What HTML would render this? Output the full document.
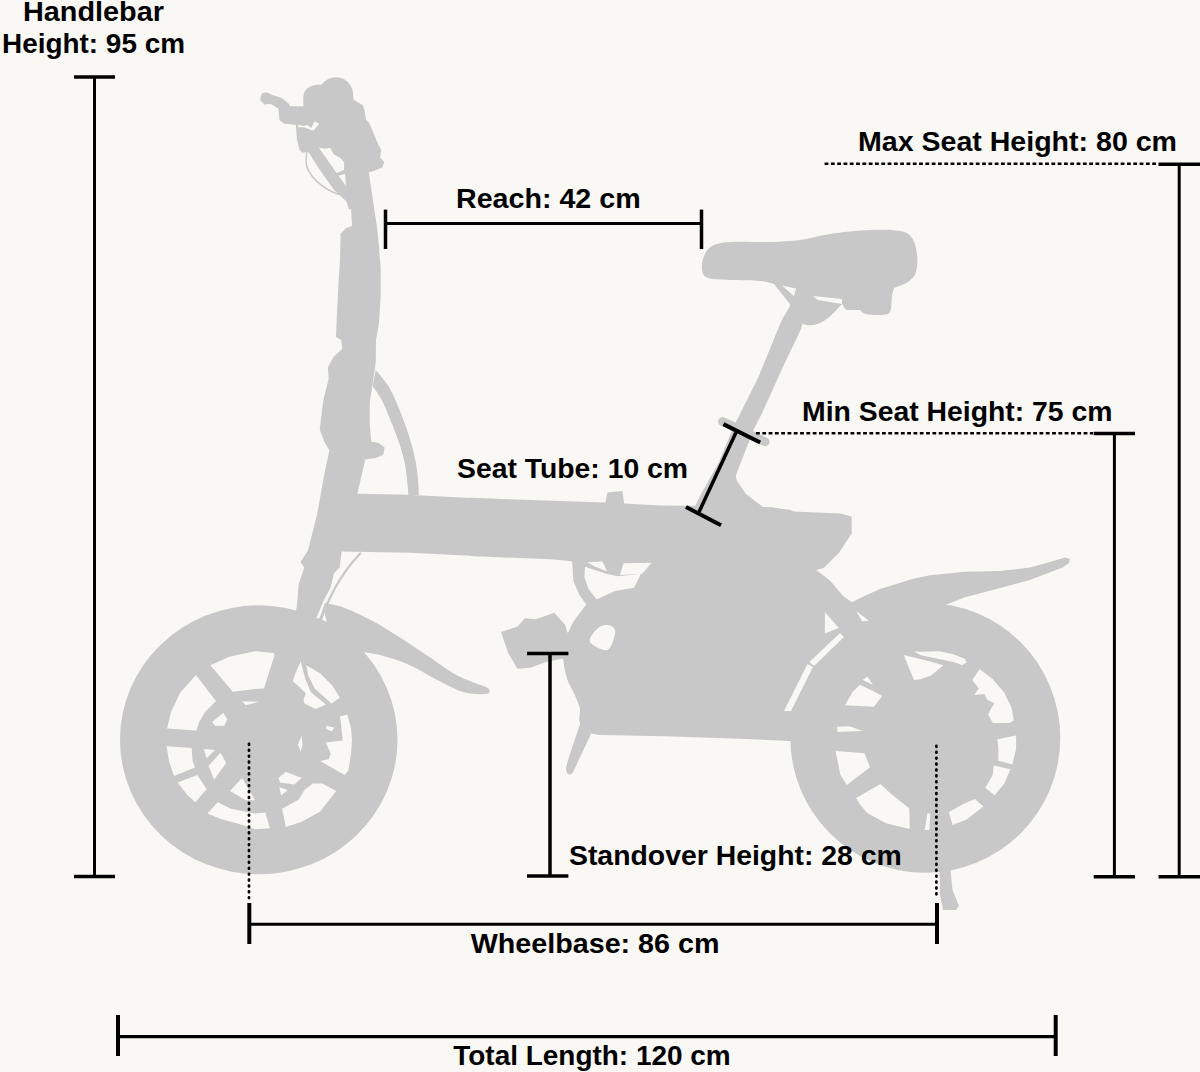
<!DOCTYPE html>
<html><head><meta charset="utf-8"><style>
html,body{margin:0;padding:0;background:#f9f8f4;}
svg{display:block;}
text{font-family:"Liberation Sans",sans-serif;font-weight:bold;font-size:27px;fill:#000;}
</style></head><body>
<svg width="1200" height="1072" viewBox="0 0 1200 1072">
<rect width="1200" height="1072" fill="#f9f8f4"/>
<g fill="#c8c8c8"><ellipse cx="258.75" cy="739.8" rx="138.75" ry="134.5"/><circle cx="925.3" cy="737.8" r="135"/><path d="M260.3,98.0 L262.0,93.3 L266.7,92.2 L272.5,95.1 L281.8,98.0 L288.8,103.8 L290.0,106.2 L303.5,106.2 L303.2,100.8 L303.4,96.0 L304.2,92.6 L306.5,89.0 L310.4,86.4 L315.0,85.0 L321.7,84.4 L324.5,81.5 L327.8,79.2 L331.5,77.7 L336.0,77.2 L340.5,77.7 L344.2,79.2 L347.7,81.8 L350.4,85.4 L352.3,89.3 L353.0,93.6 L353.5,99.7 L358.6,102.8 L362.7,104.9 L364.7,111.0 L365.8,119.2 L368.8,122.3 L373.0,131.5 L377.0,141.8 L381.2,150.0 L380.1,157.2 L384.2,162.3 L382.2,167.4 L375.0,170.5 L368.8,172.6 L371.5,190.6 L374.3,209.3 L377.1,227.9 L379.0,246.6 L380.0,260.0 L380.7,268.0 L380.7,296.0 L378.9,324.0 L376.0,340.0 L375.7,362.4 L372.7,383.3 L369.7,402.7 L369.7,423.6 L371.2,441.5 L378.7,443.0 L384.6,447.5 L383.1,454.9 L375.7,457.9 L365.2,459.4 L357.4,493.7 L399.4,494.6 L421.8,495.6 L480.0,498.4 L480.0,556.2 L410.6,552.8 L341.6,551.5 L339.7,567.4 L334.1,573.0 L330.4,587.9 L324.5,599.0 L316.5,618.0 L300.0,700.0 L262.0,740.0 L230.0,700.0 L294.0,620.0 L296.8,606.6 L298.7,584.2 L304.3,567.4 L300.5,561.8 L308.0,550.6 L317.3,513.3 L324.9,471.3 L329.4,450.4 L324.2,441.5 L319.7,429.6 L323.4,399.7 L328.7,378.8 L327.9,366.9 L333.9,356.4 L342.1,349.0 L341.3,340.0 L336.0,337.0 L336.9,314.6 L338.8,277.3 L340.0,260.0 L340.7,233.5 L346.3,227.9 L352.0,226.0 L351.0,209.0 L348.8,209.3 L346.9,202.8 L346.0,200.9 L333.8,189.7 L318.0,167.3 L308.7,152.4 L302.1,152.4 L298.4,148.7 L299.3,149.3 L297.0,140.0 L295.8,124.8 L284.2,123.7 L279.5,120.2 L278.3,108.5 L270.2,103.8 L264.3,104.4 L260.3,100.3 Z"/><path d="M375.7,369.9 C375.7,369.9 384.1,379.3 387.6,384.8 C391.1,390.3 393.4,395.2 396.6,402.7 C399.8,410.2 404.0,420.7 407.0,429.6 C410.0,438.6 412.8,448.9 414.5,456.4 C416.2,463.8 416.8,467.9 417.5,474.3 C418.2,480.7 419.0,495.0 419.0,495.0 C419.0,495.0 408.5,495.0 408.5,495.0 C408.5,495.0 407.0,475.3 405.5,466.9 C404.0,458.5 402.1,452.2 399.6,444.5 C397.1,436.8 393.6,428.1 390.6,420.6 C387.6,413.1 384.6,405.4 381.6,399.7 C378.6,394.0 372.7,386.3 372.7,386.3 C372.7,386.3 375.7,369.9 375.7,369.9 Z"/><path d="M470.0,497.8 L553.3,500.8 L605.5,502.6 L607.4,492.4 L622.3,490.9 L624.2,503.6 L660.0,505.4 L692.9,505.7 L772.3,507.3 L792.9,511.4 L840.0,513.4 L851.7,516.5 L851.7,533.6 L838.8,552.9 L823.8,568.0 L816.3,570.1 L830.2,580.8 L843.1,595.9 L851.7,602.3 L864.5,595.9 L880.0,589.0 L895.0,584.5 L912.0,579.0 L930.0,575.2 L965.0,571.7 L1000.0,571.0 L1030.0,567.5 L1050.0,562.0 L1065.0,557.5 L1070.0,559.0 L1069.0,563.0 L1062.5,567.5 L1030.0,580.0 L992.5,590.0 L965.0,597.3 L945.2,604.9 L930.0,640.0 L900.0,700.0 L850.0,741.0 L790.0,741.0 L740.0,738.8 L665.0,736.3 L600.0,735.0 L590.0,733.0 L584.0,730.0 L579.5,721.0 L580.0,708.0 L575.0,695.0 L567.5,680.0 L563.5,660.0 L567.9,636.7 L572.5,622.9 L586.3,604.6 L579.2,594.8 L573.3,580.8 L572.2,561.6 L565.2,560.4 L550.0,559.3 L470.0,556.0 Z"/><path d="M597.0,734.3 C597.0,734.3 586.9,733.2 584.0,731.0 C581.1,728.8 580.2,724.8 579.5,721.0 C578.8,717.2 580.8,712.3 580.0,708.0 C579.2,703.7 577.2,700.0 575.0,695.0 C572.8,690.0 568.9,683.8 567.0,678.0 C565.1,672.2 563.8,665.5 563.5,660.0 C563.2,654.5 564.2,649.5 565.0,645.0 C565.8,640.5 566.0,637.7 568.0,633.0 C570.0,628.3 573.3,622.0 577.0,617.0 C580.7,612.0 585.3,606.8 590.0,603.0 C594.7,599.2 599.2,596.3 605.0,594.0 C610.8,591.7 617.5,590.0 625.0,589.0 C632.5,588.0 650.0,588.0 650.0,588.0 C650.0,588.0 650.0,735.0 650.0,735.0 C650.0,735.0 597.0,734.3 597.0,734.3 Z"/><path d="M580.0,724.0 C580.0,724.0 591.0,734.0 591.0,734.0 C591.0,734.0 577.5,763.3 574.0,770.0 C570.5,776.7 571.2,774.1 570.0,774.4 C568.8,774.6 566.9,773.6 566.5,771.5 C566.1,769.4 565.2,769.9 567.5,762.0 C569.8,754.1 580.0,724.0 580.0,724.0 Z"/><path d="M786.7,300.0 L790.8,304.1 L788.8,308.2 L782.6,318.5 L776.5,332.8 L758.0,378.0 L739.5,414.9 L733.4,427.2 L719.0,462.1 L700.5,495.0 L694.4,507.3 L700.0,515.0 L800.0,515.0 L790.0,509.7 L763.0,507.0 L746.0,494.0 L737.0,481.0 L735.7,475.7 L747.4,445.7 L753.9,429.3 L762.1,412.9 L782.6,367.7 L801.1,328.7 L803.1,320.5 L813.4,324.6 L823.6,320.5 L827.8,308.2 Z"/><path d="M702.0,270.0 C701.3,266.3 702.3,260.0 704.0,256.0 C705.7,252.0 707.7,248.3 712.0,246.0 C716.3,243.7 720.3,242.7 730.0,242.0 C739.7,241.3 758.3,242.3 770.0,242.0 C781.7,241.7 790.0,241.3 800.0,240.0 C810.0,238.7 818.3,235.7 830.0,234.0 C841.7,232.3 858.3,230.5 870.0,230.0 C881.7,229.5 893.0,229.7 900.0,231.0 C907.0,232.3 909.2,234.2 912.0,238.0 C914.8,241.8 916.3,248.3 917.0,254.0 C917.7,259.7 917.5,267.3 916.0,272.0 C914.5,276.7 911.7,279.3 908.0,282.0 C904.3,284.7 894.0,288.0 894.0,288.0 C894.0,288.0 892.7,292.0 892.0,296.0 C891.3,300.0 892.0,308.8 890.0,312.0 C888.0,315.2 884.0,314.7 880.0,315.0 C876.0,315.3 869.3,314.8 866.0,314.0 C862.7,313.2 860.0,310.0 860.0,310.0 C860.0,310.0 846.0,310.0 846.0,310.0 C846.0,310.0 842.0,304.0 842.0,304.0 C842.0,304.0 832.7,314.5 828.0,318.0 C823.3,321.5 818.7,324.3 814.0,325.0 C809.3,325.7 804.0,325.5 800.0,322.0 C796.0,318.5 790.0,304.0 790.0,304.0 C790.0,304.0 774.0,284.0 774.0,284.0 C774.0,284.0 767.3,281.7 760.0,281.0 C752.7,280.3 738.7,280.5 730.0,280.0 C721.3,279.5 712.7,279.7 708.0,278.0 C703.3,276.3 702.7,273.7 702.0,270.0 Z"/><path d="M501.0,632.1 L517.5,626.6 L524.8,618.3 L535.8,619.3 L554.2,612.8 L565.2,624.8 L567.0,632.1 L572.0,636.0 L570.0,660.0 L561.5,658.7 L545.0,662.3 L530.3,667.8 L517.5,668.8 L508.3,653.2 Z"/><path d="M324.0,603.1 C324.0,603.1 336.2,604.8 344.2,607.7 C352.1,610.6 362.5,615.6 371.7,620.5 C380.9,625.4 390.0,631.2 399.2,637.0 C408.4,642.8 417.5,649.2 426.7,655.3 C435.9,661.4 446.1,669.1 454.2,673.7 C462.2,678.3 469.7,680.8 475.0,683.0 C480.3,685.2 483.6,685.8 486.0,687.0 C488.4,688.2 489.5,689.3 489.5,690.5 C489.5,691.7 490.4,693.8 486.0,694.0 C481.6,694.2 471.7,694.5 463.3,692.0 C454.9,689.5 445.0,683.8 435.8,679.2 C426.6,674.6 417.5,668.5 408.3,664.5 C399.1,660.5 388.1,657.3 380.8,655.3 C373.5,653.3 364.3,652.6 364.3,652.6 C364.3,652.6 340.0,665.0 340.0,665.0 C340.0,665.0 310.0,660.0 310.0,660.0 C310.0,660.0 324.0,603.1 324.0,603.1 Z"/><path d="M939.5,866.0 L950.0,866.0 L952.5,890.0 L959.0,906.0 L956.0,910.0 L943.0,910.0 L940.0,895.0 Z"/></g>
<g fill="none" stroke="#c8c8c8" stroke-linecap="round"><path d="M306.8,153.3 C305,161 306,169 312,176 C319,185 329,191 338.5,194.4" stroke-width="1.5"/><path d="M360.2,553.4 C352,562 341,577 335,588 C331,596 326,606 320,619" stroke-width="2.2"/><path d="M722.5,421.5 L765,441.8" stroke-width="9"/></g>
<g fill="#f9f8f4"><path d="M318.9,147.7 L325.4,148.7 L330.1,147.7 L333.8,154.3 L340.4,158.0 L344.1,162.6 L344.1,170.1 L336.6,172.9 Z"/><path d="M338.5,175.7 L345.0,173.8 L346.0,186.0 Z"/><path d="M298.2,124.8 L304.0,126.0 L307.5,124.8 L311.0,128.3 L314.5,121.3 L319.2,123.7 L313.3,130.7 L309.8,129.5 L304.0,127.2 L298.2,127.2 Z"/><path d="M324.5,599.0 L326.6,599.0 L319.2,618.0 L316.5,618.0 Z"/><path d="M322.2,619.9 L326.7,622.0 L324.5,612.4 Z"/><path d="M782.0,285.5 L796.0,288.5 L794.0,296.0 Z"/><path d="M813.0,296.0 L842.0,299.0 L842.0,304.0 L818.0,300.0 Z"/><path d="M210.4,665.2 L230.0,656.5 L255.0,651.2 L273.7,653.1 L274.6,654.9 L263.9,688.5 L255.0,689.0 L232.8,691.8 Z"/><path d="M167.0,728.6 L171.0,712.0 L180.0,693.0 L195.9,675.0 L216.0,701.1 L205.0,712.0 L199.2,722.1 L196.4,730.5 Z"/><path d="M166.5,746.2 L191.7,748.1 L192.6,761.1 L195.0,767.6 L174.0,776.0 L169.3,762.1 Z"/><path d="M177.7,782.6 L197.3,775.1 L206.6,789.1 L195.4,802.2 L187.1,794.7 Z"/><path d="M207.6,813.4 L217.8,802.2 L230.9,808.7 L255.0,813.4 L265.3,812.4 L269.9,828.3 L255.0,829.2 L237.4,823.6 L220.6,819.0 Z"/><path d="M282.1,808.7 L298.8,799.4 L304.4,790.0 L312.8,783.5 L322.2,783.5 L336.2,791.0 L320.3,811.5 L301.6,821.8 L285.8,826.9 Z"/><path d="M339.9,716.5 L347.4,714.6 L351.1,728.6 L352.0,740.0 L351.1,753.7 L348.3,770.4 L344.6,775.1 L320.3,761.1 L328.7,759.3 L330.6,753.7 L325.9,742.5 L342.7,740.6 L340.8,722.1 Z"/><path d="M300.7,661.5 L305.4,679.2 L311.0,692.2 L325.9,704.4 L315.6,709.0 L304.4,703.4 L303.5,699.7 L305.8,693.2 L299.8,687.6 L292.8,681.0 L296.0,671.7 Z"/><path d="M306.3,665.2 L320.3,673.6 L332.4,685.7 L339.9,697.8 L331.5,703.4 L314.7,688.5 L308.2,675.4 Z"/><path d="M212.2,722.1 L223.4,712.8 L227.2,719.3 L224.4,725.8 L215.0,725.8 Z"/><path d="M242.1,701.6 L258.9,701.6 L245.8,705.3 Z"/><path d="M326.8,725.8 L334.3,727.7 L331.5,731.4 L325.9,728.6 Z"/><path d="M301.6,735.9 L297.9,744.3 L300.7,751.8 L302.6,744.3 Z"/><path d="M278.3,777.9 L285.8,771.8 L301.6,777.9 L294.2,784.4 L280.2,782.6 Z"/><path d="M279.3,787.2 L287.6,790.0 L281.1,795.6 Z"/><path d="M203.8,749.0 L215.0,749.9 L206.6,758.3 Z"/><path d="M208.5,765.8 L220.6,752.7 L226.2,763.0 L214.1,779.8 Z"/><path d="M230.0,791.0 L242.1,777.9 L255.1,800.3 L245.8,800.3 Z"/><path d="M844.9,705.3 L852.4,692.2 L859.9,684.8 L872.0,690.4 L882.2,696.0 L873.8,706.7 Z"/><path d="M862.6,680.1 L867.3,676.4 L872.9,684.8 Z"/><path d="M837.0,726.8 L849.6,726.3 L862.6,731.0 L837.5,731.9 Z"/><path d="M903.7,654.9 L930.0,661.5 L943.3,665.2 L931.2,675.4 L920.0,679.2 L914.0,680.1 Z"/><path d="M914.0,651.2 L920.0,651.7 L938.7,651.2 L952.6,654.0 L964.8,658.7 L966.6,662.4 L962.0,665.2 L955.4,662.4 L946.1,660.5 L920.0,654.9 Z"/><path d="M979.7,668.9 L992.8,679.2 L1004.0,692.2 L1011.4,707.2 L1013.8,720.2 L1009.6,723.0 L992.8,723.0 L988.1,714.6 L991.8,707.2 L994.6,703.4 L987.2,699.7 L984.4,694.1 L974.1,695.0 L978.8,688.5 L972.2,680.1 Z"/><path d="M997.4,739.3 L1016.1,735.6 L1016.1,748.7 L1012.4,764.5 L998.4,760.8 L998.4,748.7 Z"/><path d="M993.7,765.4 L1010.5,769.2 L1004.0,784.1 L994.6,795.3 L985.3,787.8 L992.8,774.8 Z"/><path d="M948.9,812.1 L963.8,803.7 L975.0,799.0 L983.4,806.5 L966.6,819.6 L952.6,825.1 Z"/><path d="M927.5,813.0 L930.3,814.0 L929.3,830.0 L924.7,830.0 Z"/><path d="M835.6,751.0 L864.5,753.3 L870.1,767.3 L846.8,785.0 L840.3,774.8 Z"/><path d="M856.1,798.1 L880.4,784.1 L890.6,793.4 L909.3,808.4 L909.8,828.9 L886.0,823.3 L867.3,813.0 L859.9,804.6 Z"/><path d="M585.0,566.8 L606.0,573.8 L617.7,576.2 L641.0,573.8 L634.0,587.8 L614.2,591.3 L596.7,599.5 L588.5,589.0 L584.4,577.3 Z"/><path d="M587.3,562.2 L602.5,561.6 L607.2,571.5 L594.3,566.3 Z"/><path d="M623.5,563.3 L651.5,562.8 L642.2,573.8 L620.0,575.0 Z"/><path d="M590.0,642.0 C588.2,638.5 594.3,631.8 597.0,629.0 C599.7,626.2 603.3,625.3 606.0,625.0 C608.7,624.7 611.5,625.5 613.0,627.0 C614.5,628.5 615.9,630.2 615.0,634.0 C614.1,637.8 611.7,648.7 607.5,650.0 C603.3,651.3 591.8,645.5 590.0,642.0 Z"/><path d="M784.0,711.0 L791.0,711.0 L813.0,667.0 L807.5,664.0 Z"/><path d="M809.5,662.0 L814.0,666.0 L844.0,637.0 L840.0,633.0 Z"/><path d="M824.9,612.0 L838.8,628.0 L824.9,633.4 Z"/><path d="M856.0,610.9 L868.8,620.5 L862.4,621.6 Z"/></g>
<g stroke="#000" stroke-linecap="butt"><line x1="74" y1="77" x2="115" y2="77" stroke-width="3.5"/><line x1="94.5" y1="77" x2="94.5" y2="876.5" stroke-width="3"/><line x1="74" y1="876.5" x2="115" y2="876.5" stroke-width="3.5"/><line x1="385.5" y1="223.6" x2="701.5" y2="223.6" stroke-width="3"/><line x1="385.5" y1="209.6" x2="385.5" y2="249" stroke-width="3.5"/><line x1="701.5" y1="209.6" x2="701.5" y2="249" stroke-width="3.5"/><line x1="1158.5" y1="164.3" x2="1200" y2="164.3" stroke-width="3.5"/><line x1="1179.2" y1="164.3" x2="1179.2" y2="876.7" stroke-width="3"/><line x1="1158.5" y1="876.7" x2="1200" y2="876.7" stroke-width="3.5"/><line x1="1093.7" y1="433.5" x2="1135" y2="433.5" stroke-width="3.5"/><line x1="1114.4" y1="433.5" x2="1114.4" y2="876.7" stroke-width="3"/><line x1="1093.7" y1="876.7" x2="1135" y2="876.7" stroke-width="3.5"/><line x1="527" y1="653.4" x2="568.4" y2="653.4" stroke-width="3.5"/><line x1="550" y1="653.4" x2="550" y2="876" stroke-width="3.5"/><line x1="527" y1="876" x2="568.4" y2="876" stroke-width="3.5"/><line x1="249.3" y1="924.3" x2="937" y2="924.3" stroke-width="3"/><line x1="249.3" y1="903" x2="249.3" y2="944" stroke-width="4"/><line x1="937" y1="903" x2="937" y2="944" stroke-width="4"/><line x1="118" y1="1036.6" x2="1055.7" y2="1036.6" stroke-width="3.2"/><line x1="118" y1="1015" x2="118" y2="1056" stroke-width="4"/><line x1="1055.7" y1="1015" x2="1055.7" y2="1056" stroke-width="4"/><line x1="723.4" y1="424.1" x2="760.2" y2="442.5" stroke-width="4"/><line x1="686" y1="507" x2="721" y2="525.2" stroke-width="4"/><line x1="736" y1="432.6" x2="699" y2="512" stroke-width="3.5"/><line x1="824.6" y1="163.8" x2="1158" y2="163.8" stroke-width="2.5" stroke-dasharray="3.8 2.5"/><line x1="756" y1="433.3" x2="1093" y2="433.3" stroke-width="2.5" stroke-dasharray="3.8 2.5"/><line x1="249" y1="744" x2="249" y2="898" stroke-width="2.8" stroke-dasharray="0.8 5.1" stroke-linecap="round"/><line x1="936.4" y1="746" x2="936.4" y2="897" stroke-width="2.8" stroke-dasharray="0.8 5.1" stroke-linecap="round"/></g>
<g><text x="23" y="21" textLength="141" lengthAdjust="spacingAndGlyphs">Handlebar</text><text x="2" y="52.5" textLength="183" lengthAdjust="spacingAndGlyphs">Height: 95 cm</text><text x="456" y="208" textLength="184.6" lengthAdjust="spacingAndGlyphs">Reach: 42 cm</text><text x="858" y="150.6" textLength="319" lengthAdjust="spacingAndGlyphs">Max Seat Height: 80 cm</text><text x="802" y="421" textLength="310.5" lengthAdjust="spacingAndGlyphs">Min Seat Height: 75 cm</text><text x="457" y="478" textLength="231" lengthAdjust="spacingAndGlyphs">Seat Tube: 10 cm</text><text x="569" y="864.5" textLength="332.7" lengthAdjust="spacingAndGlyphs">Standover Height: 28 cm</text><text x="470.7" y="953.3" textLength="248.8" lengthAdjust="spacingAndGlyphs">Wheelbase: 86 cm</text><text x="453.3" y="1065.3" textLength="277.4" lengthAdjust="spacingAndGlyphs">Total Length: 120 cm</text></g>
</svg>
</body></html>
